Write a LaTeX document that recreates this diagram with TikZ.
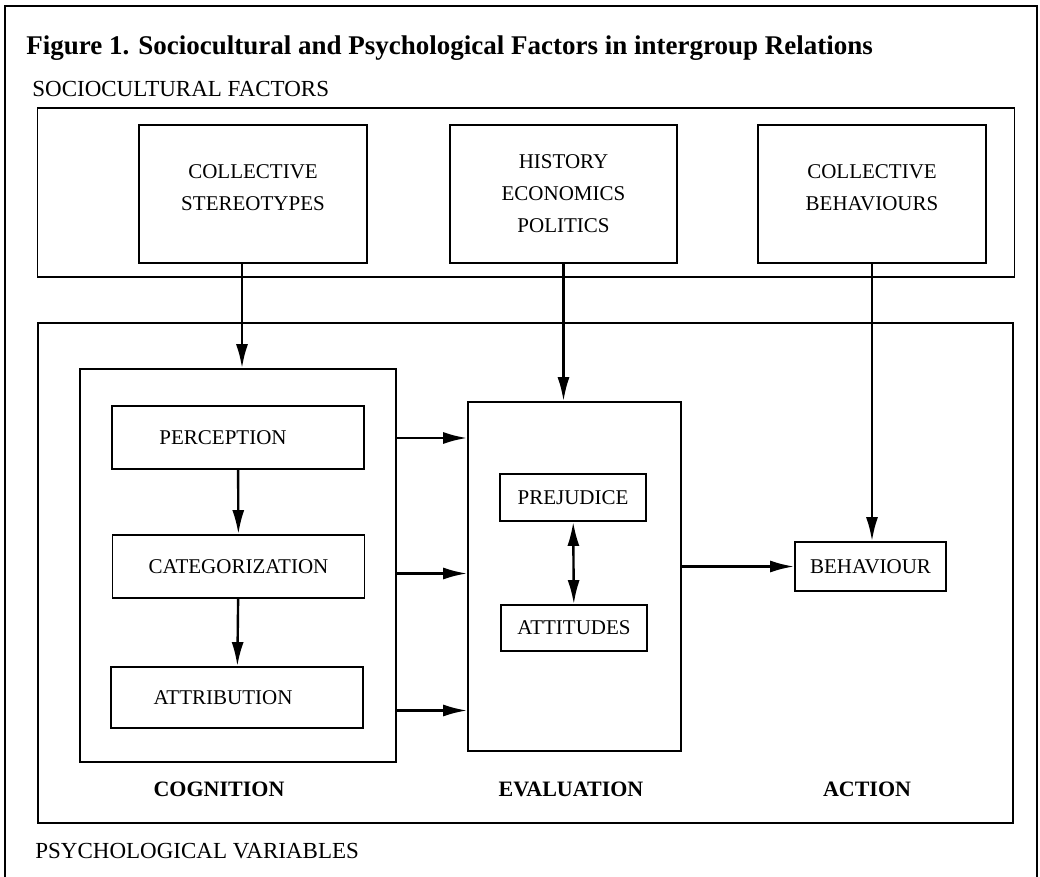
\documentclass[tikz,border=0pt]{standalone}
\usepackage{fontspec}
\setmainfont{Liberation Serif}
\usetikzlibrary{arrows.meta}

\begin{document}
\begin{tikzpicture}[x=0.5pt,y=-0.5pt,
    box/.style={draw,line width=0.9pt,inner sep=0pt,align=center,
      font=\fontsize{10.5}{16}\selectfont},
    arr/.style={-{Latex[length=12pt,width=6pt]},line width=1.2pt},
    dblarr/.style={{Latex[length=12pt,width=6pt]}-{Latex[length=12pt,width=6pt]},line width=1.2pt},
    head/.style={font=\fontsize{11}{13}\selectfont\bfseries},
    caption/.style={anchor=base west,inner sep=0pt,font=\fontsize{11.5}{14}\selectfont}]
  \useasboundingbox (0,0) rectangle (1040,877);
  % page frame
  \draw[line width=0.8pt] (5,877) -- (5,6) -- (1037,6) -- (1037,877);
  \node[anchor=base west,inner sep=0pt,font=\fontsize{13.5}{16}\selectfont\bfseries] (title) at (26,55)
    {Figure 1. Sociocultural and Psychological Factors in intergroup Relations};
  \node[caption] (soctitle) at (32,97) {SOCIOCULTURAL FACTORS};
  \node[caption] (psytitle) at (35,858) {PSYCHOLOGICAL VARIABLES};

  % sociocultural factors
  \node[box,minimum width=488.5pt,minimum height=84.5pt] (soc) at (526,192.5) {};
  \node[box,minimum width=114pt,minimum height=69pt,text depth=6pt] (stereo) at (253,194)
    {COLLECTIVE\\STEREOTYPES};
  \node[box,minimum width=113.5pt,minimum height=69pt] (history) at (563.5,194)
    {HISTORY\\ECONOMICS\\POLITICS};
  \node[box,minimum width=114pt,minimum height=69pt,text depth=6pt] (collbeh) at (872,194)
    {COLLECTIVE\\BEHAVIOURS};

  % psychological variables
  \node[box,minimum width=487.5pt,minimum height=250pt] (psych) at (525.5,573) {};
  \node[box,minimum width=158pt,minimum height=196.5pt] (cog) at (238,565.5) {};
  \node[box,minimum width=126pt,minimum height=31.5pt] (perception) at (238,437.5)
    {PERCEPTION\hspace*{15pt}};
  \node[box,minimum width=126pt,minimum height=31.5pt] (categorization) at (238.5,566.5)
    {CATEGORIZATION};
  \node[box,minimum width=126pt,minimum height=30.5pt] (attribution) at (237,697.5)
    {ATTRIBUTION\hspace*{14pt}};
  \node[box,minimum width=106.5pt,minimum height=174.5pt] (eval) at (574.5,576.5) {};
  \node[box,minimum width=73pt,minimum height=23.5pt] (prejudice) at (573,497.5) {PREJUDICE};
  \node[box,minimum width=73pt,minimum height=23pt] (attitudes) at (574,628) {ATTITUDES};
  \node[box,minimum width=75.5pt,minimum height=24.5pt] (behaviour) at (870.5,566.5) {BEHAVIOUR};

  \node[head] (cognition) at (219,789) {COGNITION};
  \node[head] (evaluation) at (571,789) {EVALUATION};
  \node[head] (action) at (867,789) {ACTION};

  % connectors
  \coordinate (a1) at ([yshift=-0.25pt]perception.east);
  \coordinate (a2) at ([yshift=-3.5pt]categorization.east);
  \coordinate (a3) at ([yshift=-6.5pt]attribution.east);
  \draw[arr] ([xshift=2pt]stereo.south -| cog.north) -- ([xshift=2pt]cog.north);
  \draw[arr] (history.south) -- (history.south |- eval.north);
  \draw[arr] (collbeh.south) -- (collbeh.south |- behaviour.north);
  \draw[arr] (perception) -- (categorization);
  \draw[arr] (categorization) -- (attribution);
  \draw[arr] (a1 -| cog.east) -- (a1 -| eval.west);
  \draw[arr] (a2 -| cog.east) -- (a2 -| eval.west);
  \draw[arr] (a3 -| cog.east) -- (a3 -| eval.west);
  \draw[dblarr] (prejudice) -- (attitudes);
  \draw[arr] (behaviour.west -| eval.east) -- (behaviour.west);
\end{tikzpicture}
\end{document}
